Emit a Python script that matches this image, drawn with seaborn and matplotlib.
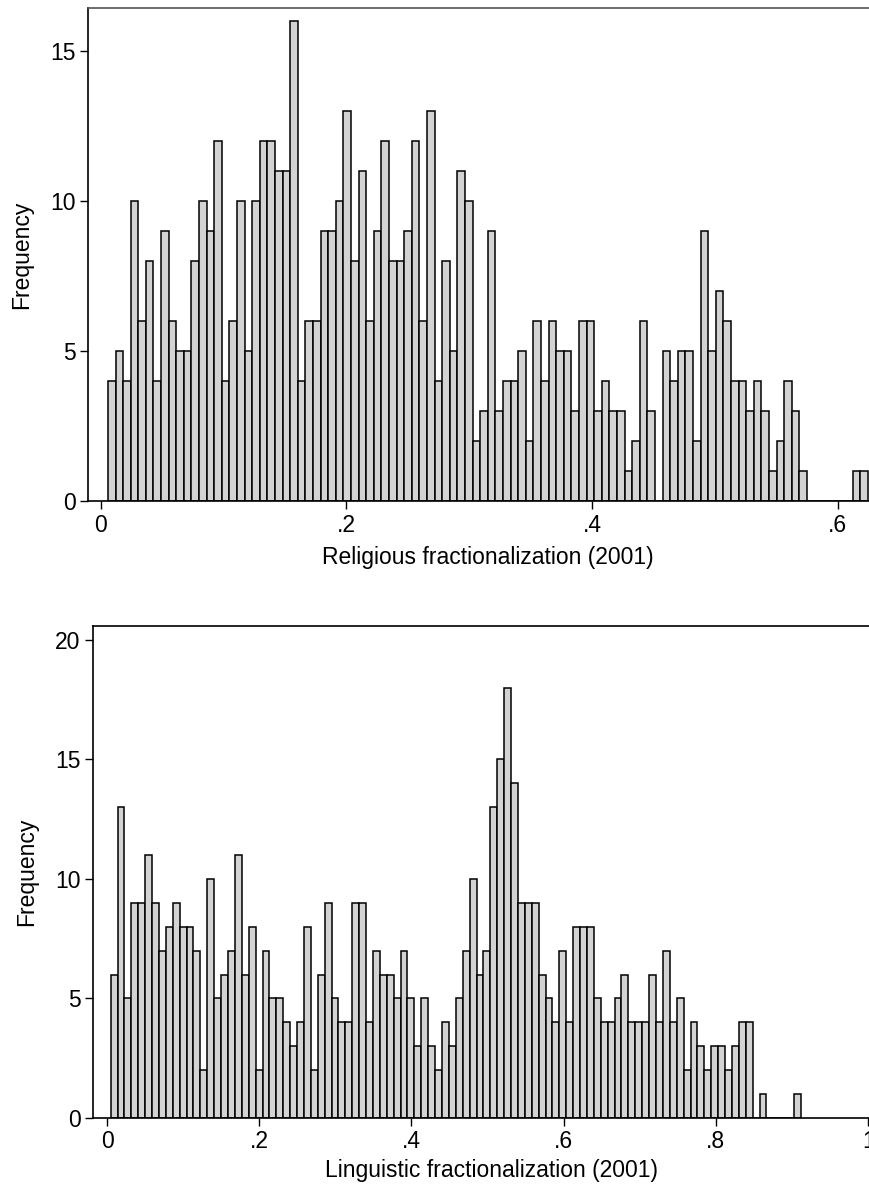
import numpy as np
import pandas as pd
import matplotlib
matplotlib.use("Agg")
import matplotlib.pyplot as plt
import seaborn as sns

# counts per bin (100 bins each)
rel_counts = [
    4, 5, 4, 10, 6, 8, 4, 9, 6, 5, 5, 8, 10, 9, 12, 4, 6, 10, 5, 10,
    12, 12, 11, 11, 16, 4, 6, 6, 9, 9, 10, 13, 8, 11, 6, 9, 12, 8, 8, 9,
    12, 6, 13, 4, 8, 5, 11, 10, 2, 3, 9, 3, 4, 4, 5, 2, 6, 4, 6, 5,
    5, 3, 6, 6, 3, 4, 3, 3, 1, 2, 6, 3, 0, 5, 4, 5, 5, 2, 9, 5,
    7, 6, 4, 4, 3, 4, 3, 1, 2, 4, 3, 1, 0, 0, 0, 0, 0, 0, 1, 1,
]
rel_range = (0.0059, 0.6243)

ling_counts = [
    6, 13, 5, 9, 9, 11, 9, 7, 8, 9, 8, 8, 7, 2, 10, 5, 6, 7, 11, 6,
    8, 2, 7, 5, 5, 4, 3, 4, 8, 2, 6, 9, 5, 4, 4, 9, 9, 4, 7, 6,
    6, 5, 7, 5, 3, 5, 3, 2, 4, 3, 5, 7, 10, 6, 7, 13, 15, 18, 14, 9,
    9, 9, 6, 5, 4, 7, 4, 8, 8, 8, 5, 4, 4, 5, 6, 4, 4, 4, 6, 4,
    7, 4, 5, 2, 4, 3, 2, 3, 3, 2, 3, 4, 4, 0, 1, 0, 0, 0, 0, 1,
]
ling_range = (0.0048, 0.9117)

rel_ticks = [0, 0.2, 0.4, 0.6]
rel_ticklabels = ["0", ".2", ".4", ".6"]
ling_ticks = [0, 0.2, 0.4, 0.6, 0.8, 1.0]
ling_ticklabels = ["0", ".2", ".4", ".6", ".8", "1"]


def expand(counts, lo, hi):
    # turn bin counts back into observations at bin centres
    edges = np.linspace(lo, hi, len(counts) + 1)
    centres = (edges[:-1] + edges[1:]) / 2
    return pd.DataFrame({"x": np.repeat(centres, counts)})


sns.set_style("white")
plt.rcParams["font.family"] = ["Liberation Sans", "DejaVu Sans"]
plt.rcParams["text.color"] = "black"
plt.rcParams["axes.labelcolor"] = "black"
plt.rcParams["xtick.color"] = "black"
plt.rcParams["ytick.color"] = "black"
FS = 16.5

fig = plt.figure(figsize=(8.7, 11.87), dpi=100)
ax1 = fig.add_axes([88 / 870, 1 - 501 / 1187, (887 - 88) / 870, (501 - 8) / 1187])
ax2 = fig.add_axes([93 / 870, 1 - 1118 / 1187, (891 - 93) / 870, (1118 - 626) / 1187])


def draw(ax, df, rng, xlim, ylim, yticks, xticks, xticklabels, xlabel, topcolor, xpad):
    sns.histplot(
        data=df, x="x", bins=100, binrange=rng, stat="count",
        color="#d3d3d3", edgecolor="black", linewidth=1.1, alpha=1, ax=ax,
    )
    ax.set_xlim(*xlim)
    ax.set_ylim(*ylim)
    ax.set_yticks(yticks)
    ax.set_xticks(xticks)
    ax.set_xticklabels(xticklabels)
    ax.set_xlabel(xlabel, fontsize=FS, labelpad=xpad, color="black")
    ax.set_ylabel("Frequency", fontsize=FS, labelpad=12, color="black")
    ax.tick_params(axis="both", direction="out", length=6, width=1,
                   color="black", labelcolor="black", labelsize=FS, pad=3,
                   left=True, bottom=True)
    for s in ["left", "bottom"]:
        ax.spines[s].set_color("black")
        ax.spines[s].set_linewidth(1.2)
    ax.spines["top"].set_color(topcolor)
    ax.spines["top"].set_linewidth(1.2)
    ax.spines["right"].set_visible(False)


draw(ax1, expand(rel_counts, *rel_range), rel_range, (-0.0103, 0.64), (0, 16.43),
     [0, 5, 10, 15], rel_ticks, rel_ticklabels,
     "Religious fractionalization (2001)", "#555555", 7)
draw(ax2, expand(ling_counts, *ling_range), ling_range, (-0.0184, 1.03), (0, 20.58),
     [0, 5, 10, 15, 20], ling_ticks, ling_ticklabels,
     "Linguistic fractionalization (2001)", "black", 4)

fig.savefig("out.png", dpi=100)
